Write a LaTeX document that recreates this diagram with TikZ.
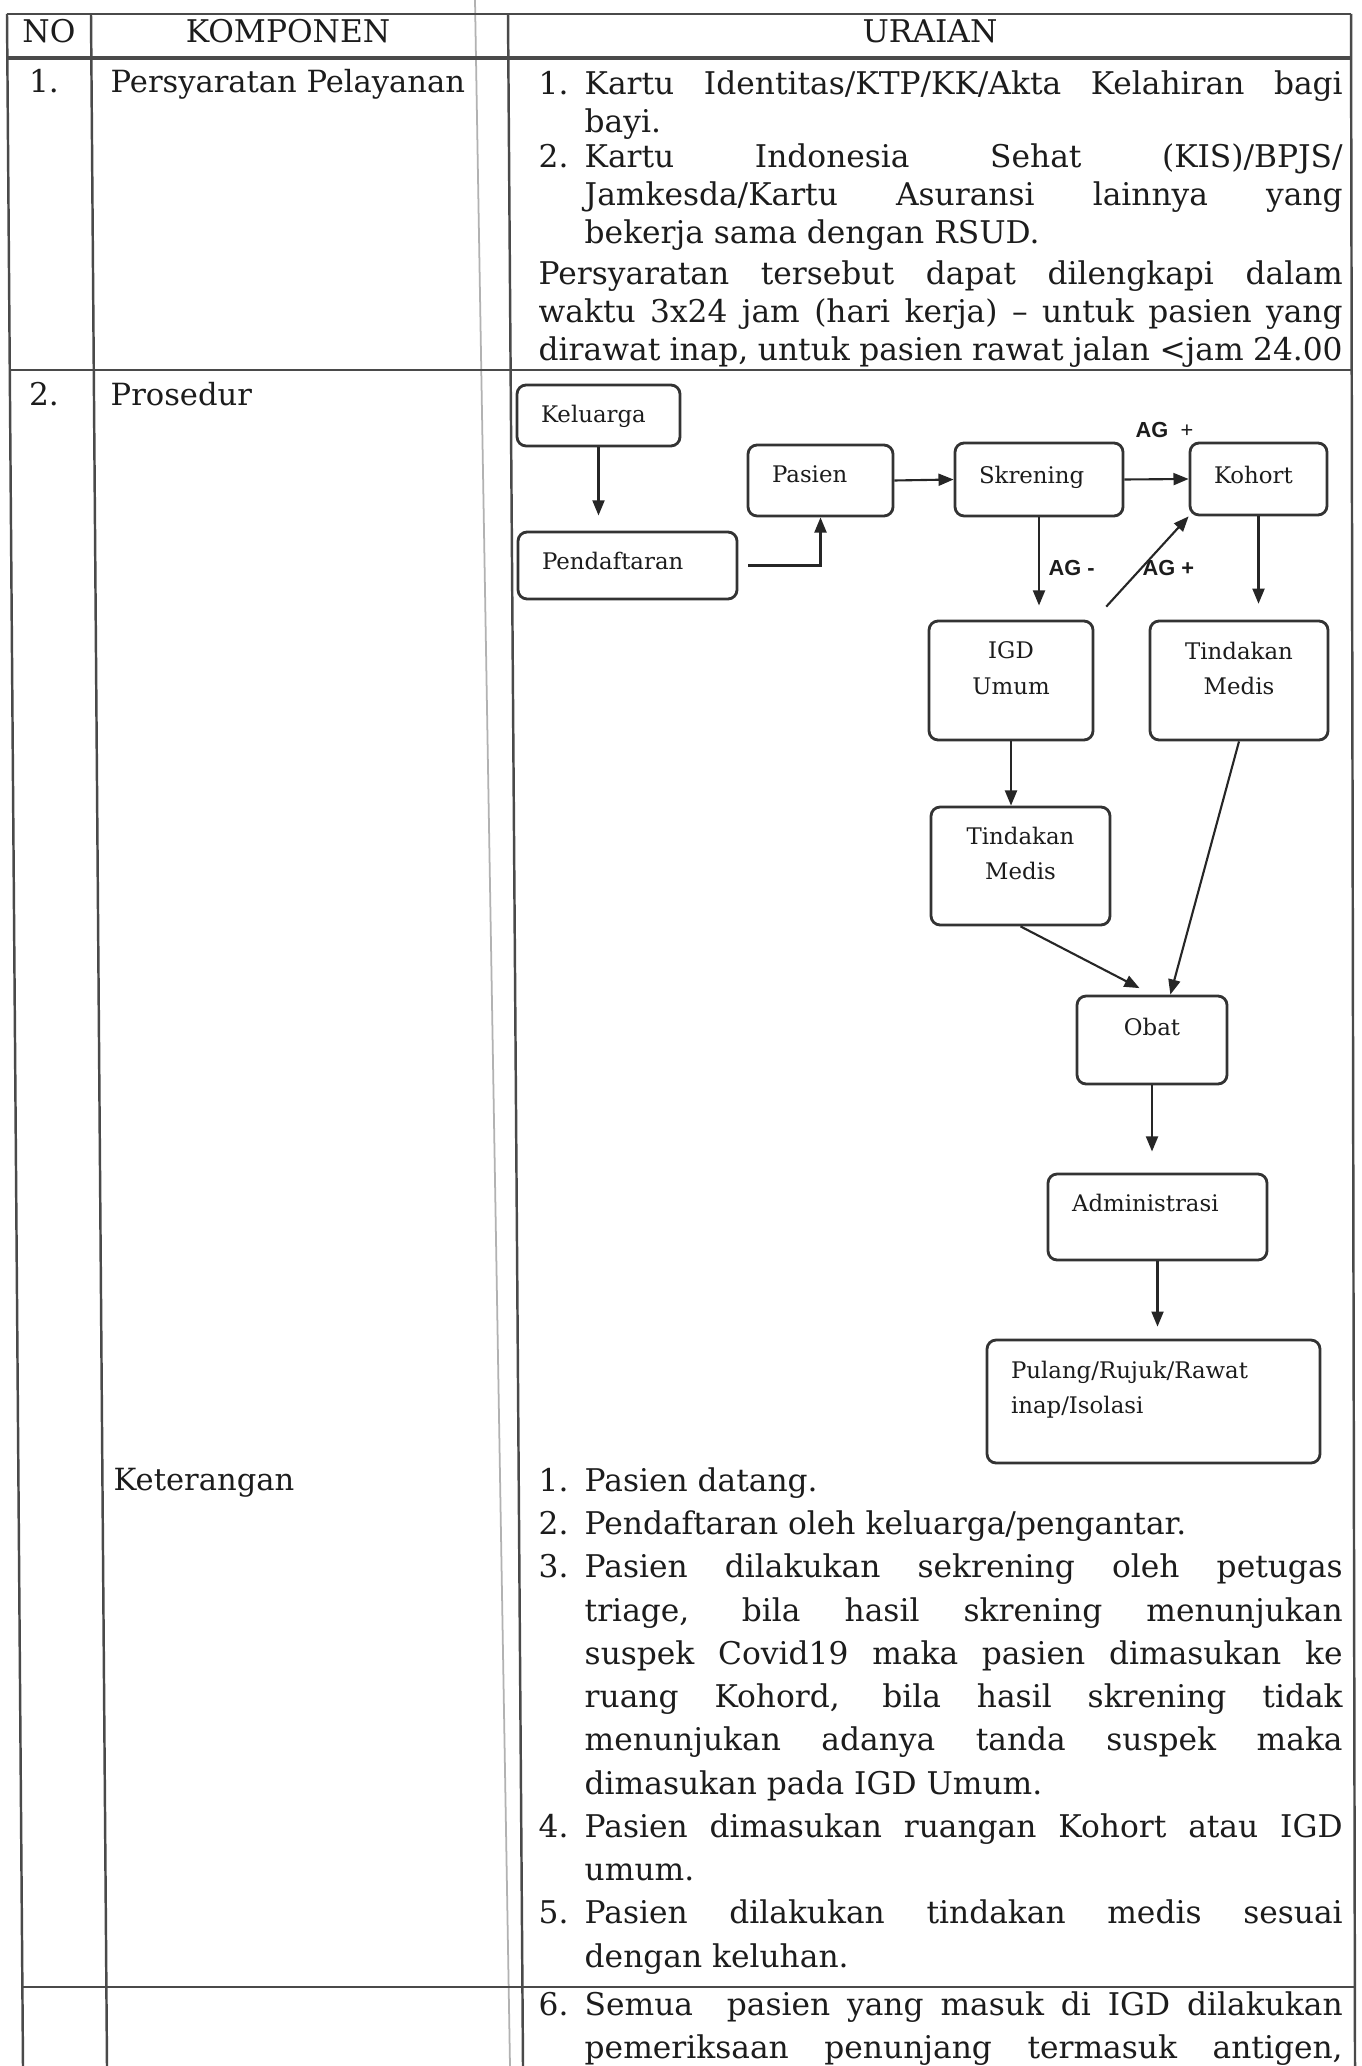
\documentclass[tikz,border=0pt]{standalone}
\usepackage{fontspec}
\setmainfont{DejaVu Serif}
\newfontfamily\agfont{Liberation Sans}
\usetikzlibrary{arrows.meta}

\newlength{\pxu}
\setlength{\pxu}{0.1mm}

% isi kotak: lebar, tinggi, jarak atas, perataan, teks
\newcommand{\bx}[5]{\parbox[c][#2\pxu][t]{#1\pxu}{\vspace*{#3\pxu}#4#5}}
\newcommand{\kiri}{\raggedright\leftskip=24\pxu}
% butir bernomor dengan indentasi gantung
\newcommand{\itm}[2]{\hangindent=46\pxu\hangafter=1\noindent\makebox[46\pxu][l]{#1}#2\par}

\definecolor{garis}{HTML}{4A4A4A}
\definecolor{tinta}{HTML}{1C1C1C}

\begin{document}
\begin{tikzpicture}[x=0.1mm, y=-0.1mm,
    tabel/.style={draw=garis, line width=0.7pt},
    kotak/.style={draw=black!80, line width=0.8pt, rounded corners=2.6pt, inner sep=0pt, text=tinta, font=\fontsize{6.5pt}{10.1pt}\selectfont},
    panah/.style={draw=black!85, line width=0.6pt, -{Triangle[length=4.3pt,width=3.4pt]}},
    isi/.style={inner sep=0pt, text=tinta, font=\fontsize{8.9pt}{10.76pt}\selectfont},
    komp/.style={isi, anchor=base west, font=\fontsize{8.7pt}{10.76pt}\selectfont},
    uraian/.style={isi, anchor=north west, text width=804\pxu, align=justify},
    ket/.style={uraian, font=\fontsize{8.9pt}{12.3pt}\selectfont},
    ag/.style={inner sep=0pt, anchor=west, text=tinta, font=\agfont\fontsize{6.2pt}{7pt}\selectfont\bfseries}
  ]
  \fill[white] (0,0) rectangle (1361,2066);
  \useasboundingbox (0,0) rectangle (1361,2066);

  % garis tabel
  \draw[draw=black!30, line width=0.5pt] (475,0) -- (510,2066);
  \foreach \a/\b in {7/23, 91/107, 508/523, 1351/1355}
    \draw[tabel] (\a,14) -- (\b,2066);
  \draw[tabel] (7,14) -- (1351,14);
  \draw[tabel, line width=1pt] (7,58) -- (1351,58);
  \draw[tabel] (10,370) -- (1352,370);
  \draw[tabel] (22,1987) -- (1355,1987);

  % kepala tabel
  \node[isi, anchor=base] (hno) at (49,43) {NO};
  \node[isi, anchor=base] (hkomp) at (288,43) {KOMPONEN};
  \node[isi, anchor=base] (hurai) at (930,43) {URAIAN};

  % baris 1
  \node[isi, anchor=base] (no1) at (44,93) {1.};
  \node[komp] (komp1) at (110,93) {Persyaratan Pelayanan};
  \node[uraian] (ktp) at (538,70) {\itm{1.}{Kartu Identitas/KTP/KK/Akta Kelahiran bagi\linebreak bayi.}};
  \node[uraian] (kis) at (538,143) {\itm{2.}{Kartu Indonesia Sehat (KIS)/BPJS/\linebreak Jamkesda/Kartu Asuransi lainnya yang\linebreak bekerja sama dengan RSUD.}};
  \node[uraian] (syarat) at (538,260) {Persyaratan tersebut dapat dilengkapi dalam\linebreak waktu 3x24 jam (hari kerja) \textendash{} untuk pasien yang\linebreak dirawat inap, untuk pasien rawat jalan <jam 24.00};

  % baris 2
  \node[isi, anchor=base] (no2) at (44,406) {2.};
  \node[komp] (komp2) at (110,406) {Prosedur};
  \node[komp] (komp3) at (113,1490) {Keterangan};

  % alur pelayanan
  \node[kotak] (kel) at (598.5,415.5) {\bx{163}{61}{20}{\kiri}{Keluarga}};
  \node[kotak] (daf) at (627.5,565.5) {\bx{219}{67}{20}{\kiri}{Pendaftaran}};
  \node[kotak] (pas) at (820.5,480.5) {\bx{145}{71}{21}{\kiri}{Pasien}};
  \node[kotak] (skr) at (1039,479.5) {\bx{168}{73}{23}{\kiri}{Skrening}};
  \node[kotak] (koh) at (1258.5,479) {\bx{137}{72}{23}{\kiri}{Kohort}};
  \node[kotak] (igd) at (1011,680.5) {\bx{164}{119}{21}{\centering}{IGD\\Umum}};
  \node[kotak] (tmk) at (1239,680.5) {\bx{178}{119}{21}{\centering}{Tindakan\\Medis}};
  \node[kotak] (tm2) at (1020.5,866) {\bx{179}{118}{20}{\centering}{Tindakan\\Medis}};
  \node[kotak] (obt) at (1152,1040) {\bx{150}{88}{22}{\centering}{Obat}};
  \node[kotak] (adm) at (1157.5,1217) {\bx{219}{86}{20}{\kiri}{Administrasi}};
  \node[kotak] (pul) at (1153.5,1401.5) {\bx{333}{123}{21}{\kiri}{Pulang/Rujuk/Rawat\\inap/Isolasi}};

  \node[ag] (agk) at (1135,430) {AG~~\textmd{+}};
  \node[ag] (agm) at (1048,568) {AG -};
  \node[ag] (agp) at (1142,568) {AG +};

  \draw[panah, shorten >=4.3pt] (kel) -- (kel |- daf.north);
  \draw[panah, shorten <=2.8pt] (daf.east) -| (pas);
  \draw[panah] (pas.east) -- (skr.west);
  \draw[panah] (skr.east) -- (koh.west);
  \draw[panah, shorten >=4pt] (skr.south) -- (skr.south |- igd.north);
  \draw[panah, shorten <=5pt] (igd.north east) -- (koh.south west);
  \draw[panah, shorten >=4.5pt] (koh.south) -- (koh.south |- tmk.north);
  \draw[panah] (igd) -- (igd |- tm2.north);
  \draw[panah] (tmk.south) -- (obt.68);
  \draw[panah, shorten >=4pt] (tm2.south) -- (obt.north);
  \draw[panah, shorten >=6pt] (obt) -- (obt |- adm.north);
  \draw[panah, shorten >=3.4pt] (adm) -- (adm |- pul.north);

  % keterangan
  \node[ket] (ket) at (538,1467) {\itm{1.}{Pasien datang.}\itm{2.}{Pendaftaran oleh keluarga/pengantar.}\itm{3.}{Pasien dilakukan sekrening oleh petugas\linebreak triage, bila hasil skrening menunjukan\linebreak suspek Covid19 maka pasien dimasukan ke\linebreak ruang Kohord, bila hasil skrening tidak\linebreak menunjukan adanya tanda suspek maka\linebreak dimasukan pada IGD Umum.}\itm{4.}{Pasien dimasukan ruangan Kohort atau IGD\linebreak umum.}\itm{5.}{Pasien dilakukan tindakan medis sesuai\linebreak dengan keluhan.}};
  \node[ket] (semua) at (538,1991) {\parfillskip=0pt\itm{6.}{Semua\ \ pasien yang masuk di IGD dilakukan\linebreak pemeriksaan penunjang termasuk antigen,}};
\end{tikzpicture}
\end{document}
